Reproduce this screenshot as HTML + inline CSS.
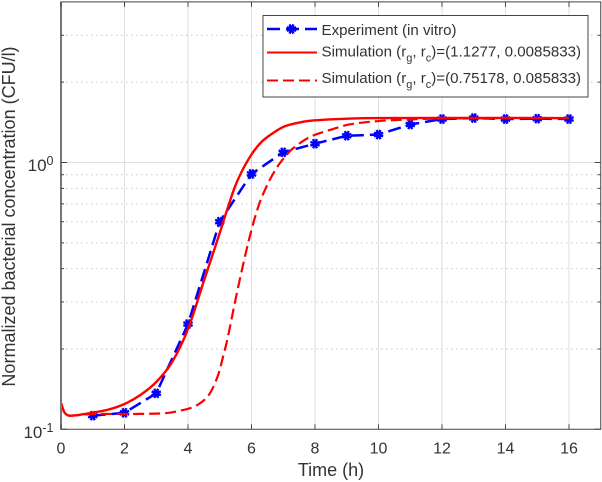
<!DOCTYPE html>
<html>
<head>
<meta charset="utf-8">
<title>Normalized bacterial concentration</title>
<style>
html,body{margin:0;padding:0;background:#fff;}
svg{display:block;font-family:"Liberation Sans",sans-serif;}
text{fill:#333;}
</style>
</head>
<body>
<svg id="chart" xmlns="http://www.w3.org/2000/svg" width="602" height="482" viewBox="0 0 602 482">
  <rect x="0" y="0" width="602" height="482" fill="#fff"/>
  <g id="grid"></g>
  <g id="series"></g>
  <g id="axes"></g>
  <text x="331" y="476" font-size="18" text-anchor="middle">Time (h)</text>
  <text transform="translate(15,216.5) rotate(-90)" font-size="18" text-anchor="middle">Normalized bacterial concentration (CFU/l)</text>
  <g>
    <rect x="263" y="15.5" width="325" height="81.5" fill="#fff" stroke="#444" stroke-width="1"/>
    <g>
      <line x1="267" y1="29" x2="317" y2="29" stroke="#0000ff" stroke-width="2.5" stroke-dasharray="13 6"/>
      <g id="legend-marker"></g>
      <text x="321.5" y="35" font-size="15.1">Experiment (in vitro)</text>
    </g>
    <g>
      <line x1="267" y1="52.5" x2="317" y2="52.5" stroke="#ff0000" stroke-width="2"/>
      <text x="321.5" y="56.5" font-size="15.1">Simulation (r<tspan font-size="11" dy="5">g</tspan><tspan dy="-5">, r</tspan><tspan font-size="11" dy="5">c</tspan><tspan dy="-5">)=(1.1277, 0.0085833)</tspan></text>
    </g>
    <g>
      <line x1="267" y1="80.5" x2="317" y2="80.5" stroke="#ff0000" stroke-width="2" stroke-dasharray="11 5"/>
      <text x="321.5" y="83" font-size="15.1">Simulation (r<tspan font-size="11" dy="5">g</tspan><tspan dy="-5">, r</tspan><tspan font-size="11" dy="5">c</tspan><tspan dy="-5">)=(0.75178, 0.085833)</tspan></text>
    </g>
  </g>
</svg>
<script>
const expTimes = [1,2,3,4,5,6,7,8,9,10,11,12,13,14,15,16];
const expValues = [0.1125,0.1153,0.1364,0.248,0.6,0.906,1.092,1.176,1.26,1.273,1.388,1.455,1.468,1.455,1.46,1.455];
const solidTimes = [0,0.1,0.2,0.3,0.6,1,1.5,2,2.5,3,3.5,4,4.5,5,5.25,5.5,5.75,6,6.25,6.5,7,7.5,8,9,10,16];
const solidValues = [0.1255,0.1161,0.1131,0.1125,0.1134,0.1154,0.1186,0.1244,0.1344,0.1504,0.1788,0.2376,0.3595,0.5444,0.6754,0.8235,0.9537,1.0715,1.173,1.246,1.359,1.412,1.439,1.46,1.468,1.468];
const dashedTimes = [0,0.1,0.2,0.3,1,2,3,3.43,3.84,4.06,4.38,4.69,4.95,5.11,5.25,5.48,5.74,5.95,6.21,6.48,6.79,7.05,7.32,7.84,8.47,9.1,10,11,12,16];
const dashedValues = [0.1255,0.1161,0.1131,0.1125,0.1141,0.1141,0.1145,0.1154,0.1181,0.1199,0.1252,0.1364,0.1598,0.1882,0.2199,0.2999,0.4165,0.5302,0.681,0.8165,0.9537,1.0486,1.133,1.246,1.324,1.39,1.43,1.45,1.462,1.468];
const xTicks = [0,2,4,6,8,10,12,14,16];
const yMinorTicks = [0.2,0.3,0.4,0.5,0.6,0.7,0.8,0.9,2,3];
const yMajorTicks = [0.1,1];

const NS = 'http://www.w3.org/2000/svg';
const X0 = 61, PXU = 31.75, Y1 = 162.5, DEC = 266.8;
const xScale = t => X0 + t * PXU;
const yScale = v => Y1 - Math.log10(v) * DEC;
const LEFT = xScale(0), RIGHT = xScale(17), BOTTOM = yScale(0.1), TOP = yScale(4);

function mk(tag, attrs, parent){
  const el = document.createElementNS(NS, tag);
  for (const k in attrs) el.setAttribute(k, attrs[k]);
  parent.appendChild(el);
  return el;
}
function smoothPath(xs, ys){
  const p = xs.map((t,i)=>[xScale(t), yScale(ys[i])]);
  let d = 'M' + p[0][0].toFixed(2) + ' ' + p[0][1].toFixed(2);
  for (let i=0;i<p.length-1;i++){
    const a = p[Math.max(i-1,0)], b = p[i], c = p[i+1], e = p[Math.min(i+2,p.length-1)];
    const k1 = (c[0]-b[0])/(c[0]-a[0]||1)/3, k2 = (c[0]-b[0])/(e[0]-b[0]||1)/3;
    d += ' C' + (b[0]+(c[0]-a[0])*k1).toFixed(2) + ' ' + (b[1]+(c[1]-a[1])*k1).toFixed(2) + ' ' +
         (c[0]-(e[0]-b[0])*k2).toFixed(2) + ' ' + (c[1]-(e[1]-b[1])*k2).toFixed(2) + ' ' +
         c[0].toFixed(2) + ' ' + c[1].toFixed(2);
  }
  return d;
}
function star(parent, cx, cy){
  const r = 5;
  let d = '';
  for (let i=0;i<4;i++){
    const a = i*Math.PI/4 + Math.PI/8;
    const dx = r*Math.cos(a), dy = r*Math.sin(a);
    d += 'M' + (cx-dx).toFixed(2) + ' ' + (cy-dy).toFixed(2) + 'L' + (cx+dx).toFixed(2) + ' ' + (cy+dy).toFixed(2);
  }
  return mk('path', {d:d, stroke:'#0000ff', 'stroke-width':2.4, fill:'none'}, parent);
}

const grid = document.getElementById('grid');
xTicks.filter(t=>t>0).forEach(t=>{
  const l = mk('line', {x1:xScale(t), x2:xScale(t), y1:TOP, y2:BOTTOM, stroke:'#dedede', 'stroke-width':1}, grid);
  
  
});
yMinorTicks.forEach(v=>{
  const l = mk('line', {x1:LEFT, x2:RIGHT, y1:yScale(v), y2:yScale(v), stroke:'#c8c8c8', 'stroke-width':1, 'stroke-dasharray':'1.5 3.5'}, grid);
  
  
});
const gridMajor = mk('line', {x1:LEFT, x2:RIGHT, y1:yScale(1), y2:yScale(1), stroke:'#dedede', 'stroke-width':1}, grid);



const series = document.getElementById('series');
const expLine = mk('polyline', {points: expTimes.map((t,i)=>xScale(t).toFixed(2)+','+yScale(expValues[i]).toFixed(2)).join(' '), fill:'none', stroke:'#0000ff', 'stroke-width':2.5, 'stroke-dasharray':'13 6'}, series);


expTimes.forEach((t,i)=>{
  const m = star(series, xScale(t), yScale(expValues[i]));
  
  
});
const dashedLine = mk('path', {d:smoothPath(dashedTimes, dashedValues), fill:'none', stroke:'#ff0000', 'stroke-width':2.2, 'stroke-dasharray':'11 5'}, series);


const solidLine = mk('path', {d:smoothPath(solidTimes, solidValues), fill:'none', stroke:'#ff0000', 'stroke-width':2.4}, series);



const axes = document.getElementById('axes');
const frame = mk('path', {d:`M${LEFT} ${TOP}H${RIGHT}V${BOTTOM}H${LEFT}Z`, fill:'none', stroke:'#444', 'stroke-width':1}, axes);


const leftAxis = mk('line', {x1:LEFT, x2:LEFT, y1:TOP, y2:BOTTOM, stroke:'#777', 'stroke-width':2}, axes);


xTicks.forEach(t=>{
  const x = xScale(t);
  const tk = mk('path', {d:`M${x} ${BOTTOM}v-5M${x} ${TOP}v5`, stroke:'#444', 'stroke-width':1, fill:'none'}, axes);
  
  
  const lb = mk('text', {x:x, y:453.7, 'font-size':16, 'text-anchor':'middle'}, axes);
  
  
  lb.textContent = String(t);
});
yMinorTicks.forEach(v=>{
  const y = yScale(v);
  const tk = mk('path', {d:`M${LEFT} ${y}h3M${RIGHT} ${y}h-3`, stroke:'#444', 'stroke-width':1, fill:'none'}, axes);
  
  
});
yMajorTicks.forEach(v=>{
  const y = yScale(v);
  const tk = mk('path', {d:`M${LEFT} ${y}h6M${RIGHT} ${y}h-6`, stroke:'#444', 'stroke-width':1, fill:'none'}, axes);
  
  
  const exp = Math.round(Math.log10(v));
  const lb = mk('text', {x:53.5, y:y+8.5, 'font-size':17, 'text-anchor':'end'}, axes);
  
  
  const base = mk('tspan', {}, lb);
  base.textContent = '10';
  const sup = mk('tspan', {'font-size':12.5, dy:-6}, lb);
  sup.textContent = exp === 0 ? '0' : String(exp);
});
const lm = star(document.getElementById('legend-marker'), 291.5, 29);


</script>
</body>
</html>
